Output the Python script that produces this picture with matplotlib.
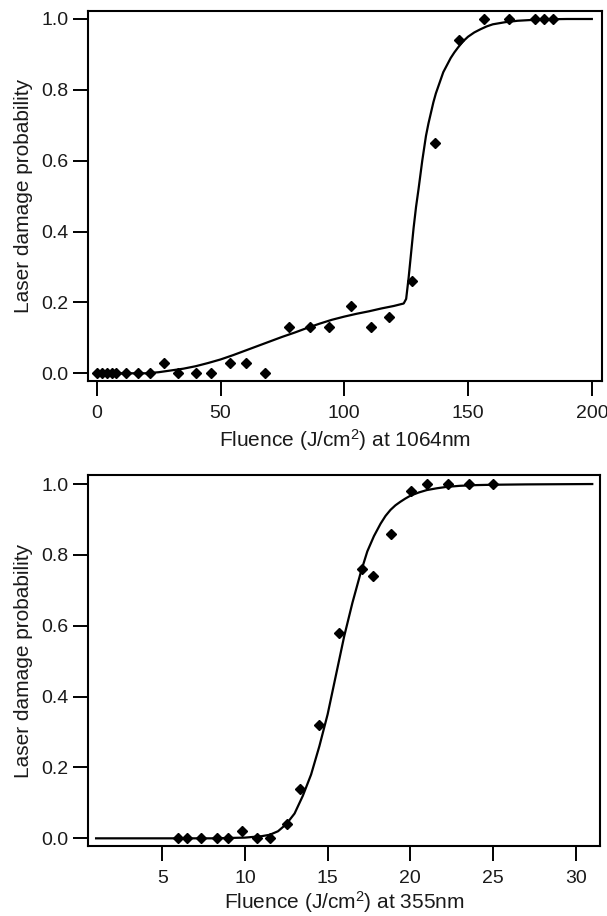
import matplotlib
matplotlib.use("Agg")
import matplotlib.pyplot as plt

plt.rcParams['font.family'] = ['Liberation Sans', 'DejaVu Sans']
plt.rcParams['mathtext.fontset'] = 'custom'
plt.rcParams['mathtext.rm'] = 'Liberation Sans'
plt.rcParams['mathtext.it'] = 'Liberation Sans'
plt.rcParams['mathtext.bf'] = 'Liberation Sans'

# 1064nm measured points
x_1064 = [0, 2, 4, 6, 7.7, 11.8, 16.7, 21.4, 27.2, 32.8, 40.3, 46.1, 53.8, 60.2, 67.8,
          77.5, 86.0, 93.8, 102.9, 110.8, 118.2, 127.5, 136.8, 146.4, 156.4, 166.7,
          176.9, 180.7, 184.2]
p_1064 = [0, 0, 0, 0, 0, 0, 0, 0, 0.03, 0, 0, 0, 0.03, 0.03, 0,
          0.13, 0.13, 0.13, 0.19, 0.13, 0.16, 0.26, 0.65, 0.94, 1.0, 1.0,
          1.0, 1.0, 1.0]

# 1064nm fitted curve
fit_x_1064 = [0, 20, 25, 30, 35, 40, 45, 50, 55, 60, 65, 70, 75, 80, 85, 90, 95, 100,
              105, 110, 115, 120, 124, 125, 126, 127, 128, 129, 130, 131.5, 133, 134,
              135, 136, 137, 138.5, 140, 141.5, 143, 144.5, 146, 148, 150, 152.5, 155,
              157.5, 160, 165, 170, 175, 180, 190, 200]
fit_p_1064 = [0, 0, 0.003, 0.008, 0.013, 0.02, 0.029, 0.039, 0.051, 0.064, 0.077, 0.09,
              0.103, 0.115, 0.128, 0.14, 0.151, 0.16, 0.168, 0.175, 0.183, 0.19, 0.197,
              0.21, 0.27, 0.34, 0.41, 0.47, 0.52, 0.6, 0.67, 0.705, 0.735, 0.765, 0.79,
              0.82, 0.85, 0.87, 0.89, 0.906, 0.92, 0.937, 0.95, 0.962, 0.971, 0.979,
              0.985, 0.991, 0.995, 0.997, 0.999, 1.0, 1.0]

# 355nm measured points
x_355 = [5.95, 6.52, 7.34, 8.29, 8.99, 9.85, 10.70, 11.52, 12.55, 13.33, 14.45,
         15.68, 17.09, 17.74, 18.82, 20.02, 21.0, 22.3, 23.55, 25.0]
p_355 = [0, 0, 0, 0, 0, 0.02, 0, 0, 0.04, 0.14, 0.32,
         0.58, 0.76, 0.74, 0.86, 0.98, 1.0, 1.0, 1.0, 1.0]

# 355nm fitted curve
fit_x_355 = [1, 8, 9, 10, 10.5, 11, 11.5, 12, 12.5, 13, 13.5, 14, 14.5, 15, 15.5, 16,
             16.5, 17, 17.4, 17.8, 18.2, 18.5, 18.8, 19.1, 19.4, 19.7, 20, 20.5, 21,
             21.6, 22.2, 23, 24, 25, 27, 31]
fit_p_355 = [0, 0, 0.001, 0.002, 0.004, 0.006, 0.01, 0.02, 0.04, 0.07, 0.12, 0.18,
             0.26, 0.35, 0.46, 0.57, 0.665, 0.75, 0.81, 0.853, 0.888, 0.91, 0.927,
             0.94, 0.95, 0.959, 0.967, 0.976, 0.983, 0.988, 0.992, 0.995, 0.997,
             0.998, 0.999, 1.0]

yticks = [0.0, 0.2, 0.4, 0.6, 0.8, 1.0]

fig = plt.figure(figsize=(6.07, 9.16), dpi=100)
ax1 = fig.add_axes([0.1455, 0.5844, 0.8458, 0.4036])
ax2 = fig.add_axes([0.1455, 0.0764, 0.843, 0.405])

panels = [
    (ax1, x_1064, p_1064, fit_x_1064, fit_p_1064, (-3.4, 204), [0, 50, 100, 150, 200],
     'Fluence (J/cm$^2$) at 1064nm', (-0.0209, 1.0226), 4),
    (ax2, x_355, p_355, fit_x_355, fit_p_355, (0.53, 31.47), [5, 10, 15, 20, 25, 30],
     'Fluence (J/cm$^2$) at 355nm', (-0.0217, 1.0254), 1.5),
]

for ax, xs, ps, fx, fp, xlim, xticks, xlabel, ylim, lpad in panels:
    ax.plot(fx, fp, color='black', lw=1.6)
    ax.plot(xs, ps, linestyle='none', marker='D', markersize=5.5, color='black')
    ax.set_xlim(*xlim)
    ax.set_ylim(*ylim)
    ax.set_xticks(xticks)
    ax.set_yticks(yticks)
    ax.set_yticklabels([f"{v:.1f}" for v in yticks])
    ax.tick_params(direction='out', length=10.5, width=1.4, labelsize=14,
                   labelcolor='#1a1a1a')
    ax.tick_params(axis='x', pad=7)
    ax.tick_params(axis='y', pad=4)
    for s in ax.spines.values():
        s.set_linewidth(1.5)
    ax.set_xlabel(xlabel, fontsize=15, labelpad=lpad, color='#1a1a1a')
    ax.set_ylabel('Laser damage probability', fontsize=15, labelpad=6, color='#1a1a1a')

fig.savefig('out.png', dpi=100)
